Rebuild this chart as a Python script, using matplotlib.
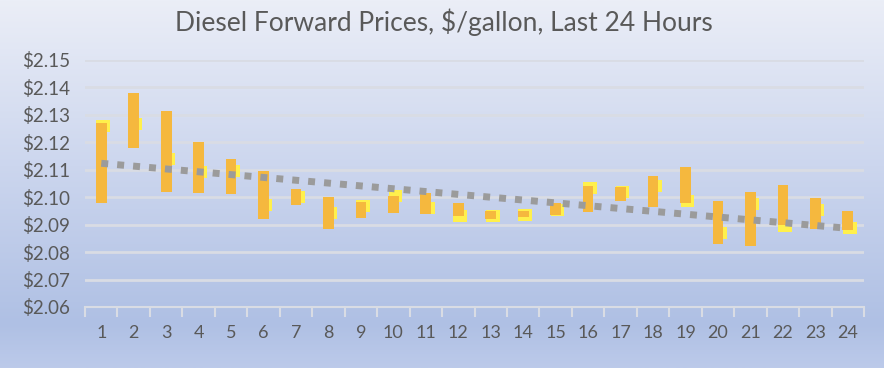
import matplotlib
matplotlib.use("Agg")
import matplotlib.pyplot as plt
import numpy as np
from matplotlib.colors import LinearSegmentedColormap

# hourly diesel forward prices, $/gallon
hours = list(range(1, 25))
high = [2.1272, 2.1381, 2.1315, 2.1202, 2.1138, 2.1095, 2.1029, 2.1002,
        2.0984, 2.1004, 2.1016, 2.0978, 2.0951, 2.0951, 2.0978, 2.1041,
        2.1038, 2.1077, 2.1111, 2.0987, 2.1020, 2.1044, 2.0996, 2.0950]
low = [2.0978, 2.1180, 2.1020, 2.1014, 2.1011, 2.0921, 2.0972, 2.0883,
       2.0925, 2.0941, 2.0938, 2.0933, 2.0921, 2.0929, 2.0935, 2.0947,
       2.0987, 2.0963, 2.0978, 2.0829, 2.0823, 2.0899, 2.0883, 2.0880]
close = [2.1261, 2.1268, 2.1139, 2.1092, 2.1095, 2.0973, 2.1001, 2.0943,
         2.0968, 2.1004, 2.0961, 2.0932, 2.0932, 2.0936, 2.0955, 2.1032,
         2.1019, 2.1040, 2.0987, 2.0870, 2.0976, 2.0895, 2.0955, 2.0889]
y_ticks = [2.06, 2.07, 2.08, 2.09, 2.10, 2.11, 2.12, 2.13, 2.14, 2.15]

FONT = ["Lato", "DejaVu Sans"]
TEXT_COLOR = "#595959"
ORANGE = "#F5B83E"
YELLOW = "#FFF04C"
GRID = "#D9DCE4"

fig = plt.figure(figsize=(8.84, 3.68), dpi=100)

# background gradient
bg = fig.add_axes([0, 0, 1, 1], zorder=-10)
cmap = LinearSegmentedColormap.from_list(
    "bg",
    [(0.0, "#EBEEF7"), (0.45, "#CCD6EE"), (0.88, "#AFC0E4"), (1.0, "#BCCAEA")],
)
grad = np.linspace(0, 1, 256).reshape(-1, 1)
bg.imshow(grad, aspect="auto", cmap=cmap, extent=[0, 1, 0, 1], origin="upper")
bg.axis("off")

ax = fig.add_axes([0.0962, 0.1658, 0.8812, 0.6712])
ax.patch.set_alpha(0)

x = np.array(hours, dtype=float)
hi = np.array(high)
lo = np.array(low)
cl = np.array(close)

# close markers (behind the high-low bars, nudged right)
ax.bar(x + 0.06, 0.0044, bottom=cl - 0.0022, width=0.42, color=YELLOW, zorder=3)
# high-low bars
ax.bar(x, hi - lo, bottom=lo, width=0.33, color=ORANGE, zorder=4)

# linear trendline on closes
slope, icpt = np.polyfit(x, cl, 1)
xt = np.array([x[0], x[-1]])
ax.plot(xt, slope * xt + icpt, color="#9B9B9B", lw=5,
        linestyle=(0, (1.0, 1.3)), dash_capstyle="butt", zorder=5)

ax.set_xlim(0.5, 24.5)
ax.set_ylim(2.06, 2.15)
ax.set_yticks(y_ticks)
ax.set_yticklabels([f"${v:.2f}" for v in y_ticks])
ax.set_xticks(hours)
ax.set_xticklabels([str(h) for h in hours])
ax.set_xticks(np.arange(0.5, 25, 1), minor=True)
ax.tick_params(axis="x", which="major", length=0, pad=13,
               labelsize=13, labelcolor=TEXT_COLOR)
ax.tick_params(axis="x", which="minor", length=7, width=1.5, color=GRID)
ax.tick_params(axis="y", length=0, pad=11, labelsize=13.5, labelcolor=TEXT_COLOR)
for lab in ax.get_xticklabels() + ax.get_yticklabels():
    lab.set_family(FONT)

ax.grid(axis="y", color=GRID, lw=2)
ax.set_axisbelow(True)
for side in ("top", "right", "left"):
    ax.spines[side].set_visible(False)
ax.spines["bottom"].set_color(GRID)
ax.spines["bottom"].set_linewidth(1.5)

fig.text(0.502, 0.94, "Diesel Forward Prices, $/gallon, Last 24 Hours",
         ha="center", va="center", fontsize=19, color=TEXT_COLOR, family=FONT)

fig.savefig("out.png", dpi=100)
